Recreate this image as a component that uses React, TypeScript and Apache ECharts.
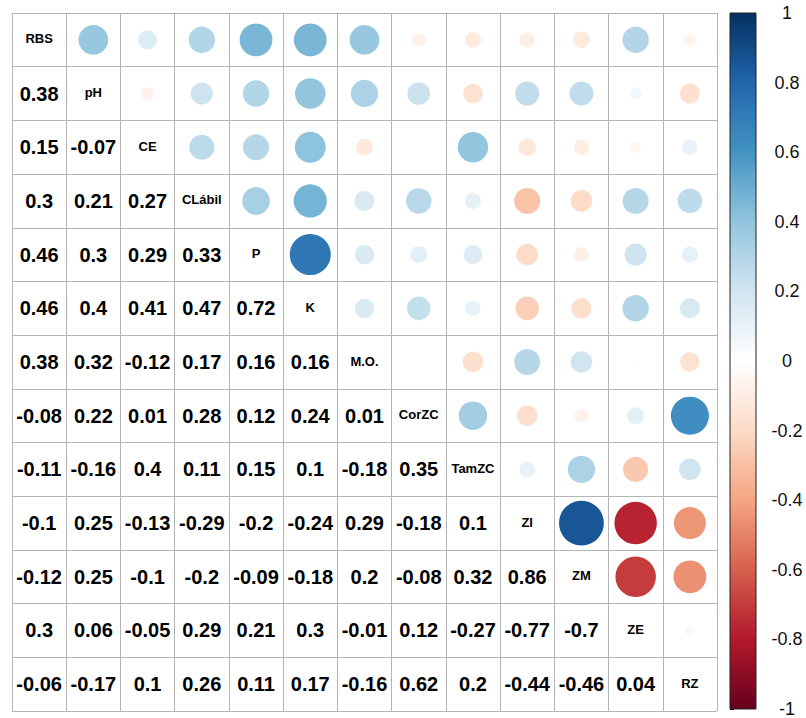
import React, { useEffect, useRef } from "react";
import * as echarts from "echarts";

const variables = ["RBS", "pH", "CE", "CLábil", "P", "K", "M.O.", "CorZC", "TamZC", "ZI", "ZM", "ZE", "RZ"];

// lower triangle of the correlation matrix, row i holds columns 0..i-1
const lowerRows: number[][] = [
  [],
  [0.38],
  [0.15, -0.07],
  [0.3, 0.21, 0.27],
  [0.46, 0.3, 0.29, 0.33],
  [0.46, 0.4, 0.41, 0.47, 0.72],
  [0.38, 0.32, -0.12, 0.17, 0.16, 0.16],
  [-0.08, 0.22, 0.01, 0.28, 0.12, 0.24, 0.01],
  [-0.11, -0.16, 0.4, 0.11, 0.15, 0.1, -0.18, 0.35],
  [-0.1, 0.25, -0.13, -0.29, -0.2, -0.24, 0.29, -0.18, 0.1],
  [-0.12, 0.25, -0.1, -0.2, -0.09, -0.18, 0.2, -0.08, 0.32, 0.86],
  [0.3, 0.06, -0.05, 0.29, 0.21, 0.3, -0.01, 0.12, -0.27, -0.77, -0.7],
  [-0.06, -0.17, 0.1, 0.26, 0.11, 0.17, -0.16, 0.62, 0.2, -0.44, -0.46, 0.04],
];

// RdBu palette from -1 to 1
const paletteColors = [
  "#67001F", "#B2182B", "#D6604D", "#F4A582", "#FDDBC7", "#FFFFFF",
  "#D1E5F0", "#92C5DE", "#4393C3", "#2166AC", "#053061",
];

const colorbarRange = [-1, 1];

const FONT = "'Liberation Sans', Arial, Helvetica, sans-serif";

export default function App() {
  const ref = useRef<HTMLDivElement>(null);

  useEffect(() => {
    document.body.style.margin = "0";
    const chart = echarts.init(ref.current as HTMLDivElement, null, { renderer: "svg" });
    const n = variables.length;
    const corr = (i: number, j: number) => (i === j ? 1 : i > j ? lowerRows[i][j] : lowerRows[j][i]);

    const circleData: number[][] = [];
    const numberData: number[][] = [];
    const diagData: number[][] = [];
    for (let i = 0; i < n; i++) {
      for (let j = 0; j < n; j++) {
        if (j > i) circleData.push([j, i, corr(i, j)]);
        else if (j < i) numberData.push([j, i, corr(i, j)]);
        else diagData.push([j, i]);
      }
    }

    const gradientStops = paletteColors
      .map((c, k) => ({ offset: 1 - k / (paletteColors.length - 1), color: c }))
      .reverse();

    const gridLine = { show: true, lineStyle: { color: "#b4b4b4", width: 1 } };

    chart.setOption({
      animation: false,
      backgroundColor: "#ffffff",
      grid: [
        { left: 12, top: 13, width: 705, height: 698 },
        { left: 730, top: 13, width: 26, height: 698 },
      ],
      xAxis: [
        {
          type: "value", gridIndex: 0, min: 0, max: n, interval: 1,
          axisLine: { show: false }, axisTick: { show: false }, axisLabel: { show: false },
          splitLine: gridLine,
        },
        {
          type: "value", gridIndex: 1, min: 0, max: 1, show: false,
        },
      ],
      yAxis: [
        {
          type: "value", gridIndex: 0, min: 0, max: n, interval: 1, inverse: true,
          axisLine: { show: false }, axisTick: { show: false }, axisLabel: { show: false },
          splitLine: gridLine,
        },
        {
          type: "value", gridIndex: 1, min: colorbarRange[0], max: colorbarRange[1], interval: 0.2,
          position: "right",
          axisLine: { show: false },
          axisTick: { show: true, length: 4, lineStyle: { color: "#000", width: 1 } },
          splitLine: { show: false },
          axisLabel: {
            show: true, margin: 31, align: "center", fontSize: 18, color: "#111", fontFamily: FONT,
            formatter: (v: number) => String(Math.round(v * 10) / 10),
          },
        },
      ],
      visualMap: {
        show: false, type: "continuous", min: -1, max: 1, dimension: 2, seriesIndex: 0,
        inRange: { color: paletteColors },
      },
      series: [
        {
          type: "custom", xAxisIndex: 0, yAxisIndex: 0, encode: { x: 0, y: 1 },
          data: circleData,
          renderItem: (params: any, api: any) => {
            const c = api.coord([api.value(0) + 0.5, api.value(1) + 0.5]);
            const s = api.size([1, 1]);
            const r = 0.45 * Math.min(s[0], s[1]) * Math.sqrt(Math.abs(api.value(2)));
            return { type: "circle", shape: { cx: c[0], cy: c[1], r }, style: { fill: api.visual("color") } };
          },
        },
        {
          type: "custom", xAxisIndex: 0, yAxisIndex: 0, encode: { x: 0, y: 1 },
          data: numberData,
          renderItem: (params: any, api: any) => {
            const c = api.coord([api.value(0) + 0.5, api.value(1) + 0.5]);
            return {
              type: "text", x: c[0], y: c[1],
              style: {
                text: String(api.value(2)), fontSize: 20, fontWeight: "bold", fontFamily: FONT,
                fill: "#000", align: "center", verticalAlign: "middle",
              },
            };
          },
        },
        {
          type: "custom", xAxisIndex: 0, yAxisIndex: 0, encode: { x: 0, y: 1 },
          data: diagData,
          renderItem: (params: any, api: any) => {
            const idx = params.dataIndex;
            const c = api.coord([api.value(0) + 0.5, api.value(1) + 0.5]);
            return {
              type: "text", x: c[0], y: c[1] - 1,
              style: {
                text: variables[idx], fontSize: 13, fontWeight: "bold", fontFamily: FONT,
                fill: "#000", align: "center", verticalAlign: "middle",
              },
            };
          },
        },
        {
          type: "custom", xAxisIndex: 1, yAxisIndex: 1, encode: { x: 0, y: 1 },
          data: [[0, colorbarRange[0]], [1, colorbarRange[1]]],
          renderItem: (params: any, api: any) => {
            if (params.dataIndex !== 0) return null;
            const tl = api.coord([0, colorbarRange[1]]);
            const br = api.coord([1, colorbarRange[0]]);
            return {
              type: "rect",
              shape: { x: tl[0], y: tl[1], width: br[0] - tl[0], height: br[1] - tl[1] },
              style: {
                fill: new echarts.graphic.LinearGradient(0, 0, 0, 1, gradientStops),
                stroke: "#222", lineWidth: 1,
              },
            };
          },
        },
      ],
    });

    return () => chart.dispose();
  }, []);

  return <div ref={ref} style={{ width: 806, height: 718 }} />;
}
